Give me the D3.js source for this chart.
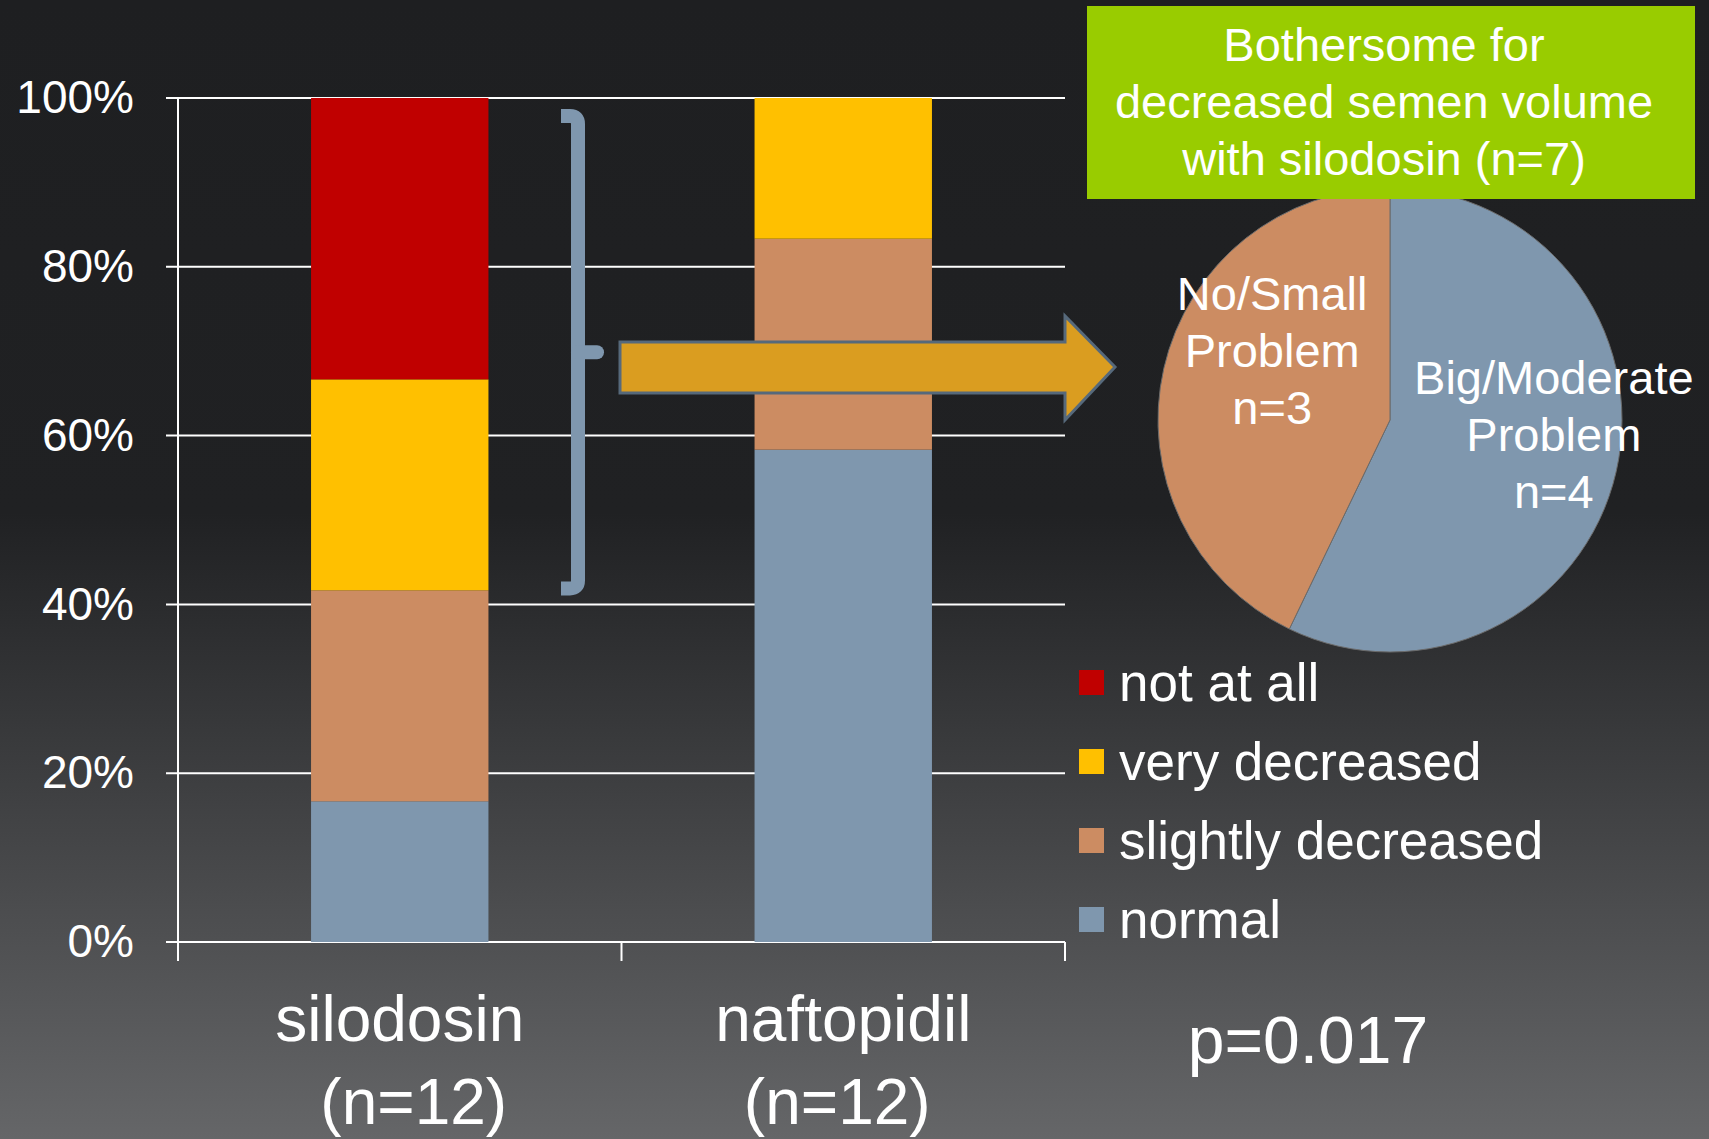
<!DOCTYPE html>
<html>
<head>
<meta charset="utf-8">
<script src="https://cdn.jsdelivr.net/npm/d3@7"></script>
<style>
  html, body { margin: 0; padding: 0; background: #1e1f21; }
  svg { display: block; font-family: "Liberation Sans", Arial, sans-serif; }
</style>
</head>
<body>
<script>
// ---- data ----
var categories = ["silodosin", "naftopidil"];
var groupLabels = ["(n=12)", "(n=12)"];
var seriesKeys = ["normal", "slightly decreased", "very decreased", "not at all"];
var normal = [2, 7];
var slightlyDecreased = [3, 3];
var veryDecreased = [3, 2];
var notAtAll = [4, 0];
var yTicks = [0, 0.2, 0.4, 0.6, 0.8, 1];

var pieNames = ["Big/Moderate|Problem|n=4", "No/Small|Problem|n=3"];
var pieValues = [4, 3];
var pieTitle = ["Bothersome for", "decreased semen volume", "with silodosin (n=7)"];
var pValue = "p=0.017";

var colors = {
  "not at all": "#c00000",
  "very decreased": "#ffc000",
  "slightly decreased": "#cc8c62",
  "normal": "#7f97ae"
};
var legendOrder = ["not at all", "very decreased", "slightly decreased", "normal"];

var width = 1709, height = 1139;

var svg = d3.select("body").append("svg")
    .attr("width", width)
    .attr("height", height);

// background gradient
var defs = svg.append("defs");
var grad = defs.append("linearGradient")
    .attr("id", "bg").attr("x1", 0).attr("y1", 0).attr("x2", 0).attr("y2", 1);
grad.append("stop").attr("offset", "0%").attr("stop-color", "#1e1f21");
grad.append("stop").attr("offset", "45%").attr("stop-color", "#202123");
grad.append("stop").attr("offset", "100%").attr("stop-color", "#656668");
svg.append("rect").attr("width", width).attr("height", height).attr("fill", "url(#bg)");

// ---- stacked bars ----
var plotLeft = 178, plotRight = 1065, plotTop = 98, plotBottom = 942;

var rows = categories.map(function(c, i) {
  return {cat: c, "normal": normal[i], "slightly decreased": slightlyDecreased[i],
          "very decreased": veryDecreased[i], "not at all": notAtAll[i]};
});
var stacked = d3.stack().keys(seriesKeys).offset(d3.stackOffsetExpand)(rows);

var x = d3.scaleBand().domain(categories).range([plotLeft, plotRight]).padding(0);
var barW = x.bandwidth() * 0.4;
var y = d3.scaleLinear().domain([0, 1]).range([plotBottom, plotTop]);

// gridlines
svg.append("g").selectAll("line")
  .data(yTicks)
  .enter().append("line")
    .attr("x1", plotLeft - 12).attr("x2", plotRight)
    .attr("y1", function(d) { return y(d); })
    .attr("y2", function(d) { return y(d); })
    .style("stroke", "#ffffff")
    .style("stroke-width", "2px");

// y axis labels
var yAxis = d3.axisLeft(y).tickValues(yTicks).tickFormat(d3.format(".0%")).tickSize(0).tickPadding(44);
var yg = svg.append("g").attr("transform", "translate(" + plotLeft + ",0)").call(yAxis);
yg.select(".domain").remove();
yg.selectAll("text").style("fill", "#ffffff").style("font-size", "46px")
  .style("font-family", "Liberation Sans, Arial, sans-serif");

// axis lines
svg.append("line").attr("x1", plotLeft).attr("x2", plotLeft).attr("y1", plotTop).attr("y2", plotBottom + 19)
  .style("stroke", "#fff").style("stroke-width", "2px");
svg.append("g").selectAll("line")
  .data(categories.slice(1).concat(["end"]))
  .enter().append("line")
    .attr("x1", function(d) { return d === "end" ? plotRight : x(d); })
    .attr("x2", function(d) { return d === "end" ? plotRight : x(d); })
    .attr("y1", plotBottom).attr("y2", plotBottom + 19)
    .style("stroke", "#fff").style("stroke-width", "2px");

var layer = svg.append("g").selectAll("g")
  .data(stacked)
  .enter().append("g")
    .style("fill", function(d) { return colors[d.key]; });

layer.selectAll("rect")
  .data(function(d) { return d; })
  .enter().append("rect")
    .attr("x", function(d) { return x(d.data.cat) + (x.bandwidth() - barW) / 2; })
    .attr("y", function(d) { return y(d[1]); })
    .attr("width", barW)
    .attr("height", function(d) { return y(d[0]) - y(d[1]); });

// category labels
svg.append("g").selectAll("text")
  .data(categories)
  .enter().append("text")
    .attr("x", function(d) { return x(d) + x.bandwidth() / 2; })
    .attr("y", 1041)
    .attr("text-anchor", "middle")
    .style("fill", "#fff")
    .style("font-size", "64px")
    .text(function(d) { return d; });
svg.append("g").selectAll("text")
  .data(groupLabels)
  .enter().append("text")
    .attr("x", function(d, i) { return x(categories[i]) + x.bandwidth() / 2 + (i === 0 ? 14 : -6); })
    .attr("y", 1124)
    .attr("text-anchor", "middle")
    .style("fill", "#fff")
    .style("font-size", "64px")
    .text(function(d) { return d; });

// curly brace spanning the silodosin "decreased" part
var bTop = y(1) + 18, bBot = y(0.4) - 16, bMid = (bTop + bBot) / 2;
var bx0 = 561, bx1 = 578, bx2 = 597;
var braceG = svg.append("g")
  .style("fill", "none")
  .style("stroke", colors["normal"])
  .style("stroke-width", "14px");
braceG.append("path")
  .attr("d", "M" + bx0 + "," + bTop + "L" + (bx1 - 8) + "," + bTop +
             "Q" + bx1 + "," + bTop + " " + bx1 + "," + (bTop + 8) +
             "L" + bx1 + "," + (bBot - 8) +
             "Q" + bx1 + "," + bBot + " " + (bx1 - 8) + "," + bBot +
             "L" + bx0 + "," + bBot)
  .style("stroke-linecap", "butt");
braceG.append("line")
  .attr("x1", bx1).attr("x2", bx2).attr("y1", bMid).attr("y2", bMid)
  .style("stroke-linecap", "round");

// block arrow to the pie
var aY = 367;
svg.append("path")
  .attr("d", "M620," + (aY - 25) + "L1065," + (aY - 25) + "L1065," + (aY - 51) + "L1115," + aY +
             "L1065," + (aY + 53) + "L1065," + (aY + 26) + "L620," + (aY + 26) + "Z")
  .style("fill", "#da9d20")
  .style("stroke", "#56697b")
  .style("stroke-width", "3px");

// ---- pie ----
var cx = 1390, cy = 420, r = 232;
var pie = d3.pie().sort(null)(pieValues);
var arc = d3.arc().innerRadius(0).outerRadius(r);
var pg = svg.append("g").attr("transform", "translate(" + cx + "," + cy + ")");
var pieColors = [colors["normal"], colors["slightly decreased"]];
pg.selectAll("path")
  .data(pie)
  .enter().append("path")
    .attr("d", arc)
    .style("fill", function(d, i) { return pieColors[i]; })
    .style("stroke", "#6b6b6b")
    .style("stroke-width", "1px");

var labelArc = d3.arc().innerRadius(166).outerRadius(166);
var labelShift = [[2, -22], [44, -32]];
pie.forEach(function(d, i) {
  var c = labelArc.centroid(d);
  var lines = pieNames[i].split("|");
  var t = pg.append("text")
    .attr("text-anchor", "middle")
    .style("fill", "#fff")
    .style("font-size", "47px");
  lines.forEach(function(s, j) {
    t.append("tspan")
      .attr("x", c[0] + labelShift[i][0])
      .attr("y", c[1] + labelShift[i][1] + (j - 1) * 57 + 16)
      .text(s);
  });
});

// green title box (drawn over the pie top)
svg.append("rect")
  .attr("x", 1087).attr("y", 6).attr("width", 608).attr("height", 193)
  .style("fill", "#99cc00");
svg.append("g").selectAll("text")
  .data(pieTitle)
  .enter().append("text")
    .attr("x", 1384)
    .attr("y", function(d, i) { return 61 + i * 57; })
    .attr("text-anchor", "middle")
    .style("fill", "#fff")
    .style("font-size", "47px")
    .text(function(d) { return d; });

// ---- legend ----
var legend = svg.append("g").selectAll("g")
  .data(legendOrder)
  .enter().append("g")
    .attr("transform", function(d, i) { return "translate(1079," + (682 + i * 79) + ")"; });
legend.append("rect")
  .attr("x", 0).attr("y", -12).attr("width", 25).attr("height", 25)
  .style("fill", function(d) { return colors[d]; });
legend.append("text")
  .attr("x", 40).attr("dy", "0.36em")
  .style("fill", "#fff")
  .style("font-size", "53px")
  .text(function(d) { return d; });

// p value
svg.append("text")
  .attr("x", 1308).attr("y", 1063)
  .attr("text-anchor", "middle")
  .style("fill", "#fff")
  .style("font-size", "66px")
  .text(pValue);
</script>
</body>
</html>
